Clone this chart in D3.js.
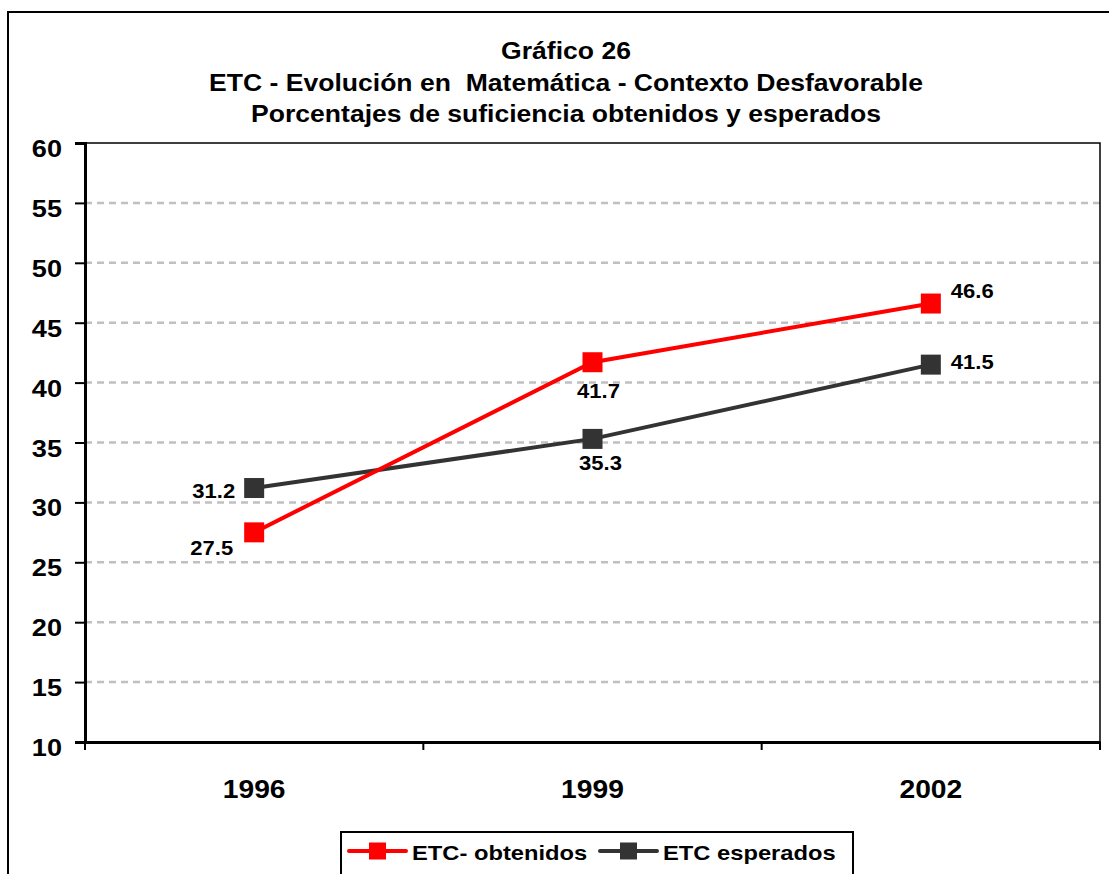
<!DOCTYPE html>
<html><head><meta charset="utf-8">
<script src="https://cdn.jsdelivr.net/npm/d3@7"></script>
<style>body{margin:0;background:#fff;}svg{display:block;font-family:"Liberation Sans",Arial,sans-serif;}text{white-space:pre;}</style>
</head><body>
<script>
const categories = ["1996", "1999", "2002"];
const obtenidos = [27.5, 41.7, 46.6];
const esperados = [31.2, 35.3, 41.5];
const yTicks = [10, 15, 20, 25, 30, 35, 40, 45, 50, 55, 60];
const titleLines = ["Gráfico 26", "ETC - Evolución en  Matemática - Contexto Desfavorable", "Porcentajes de suficiencia obtenidos y esperados"];
const seriesNames = ["ETC- obtenidos", "ETC esperados"];

const W = 1109, H = 874, K = 1.13;
const svg = d3.select("body").append("svg").attr("width", W).attr("height", H);

// stretch text horizontally about its anchor point
function stretch(sel) {
  sel.each(function() {
    const t = d3.select(this);
    const x = +t.attr("x") || 0, y = +t.attr("y") || 0;
    t.attr("x", 0).attr("y", 0).attr("transform", `translate(${x},${y}) scale(${K},1)`);
  });
}

// outer frame
svg.append("rect").attr("x", 8).attr("y", 12).attr("width", 1120).attr("height", 900)
  .attr("fill", "none").attr("stroke", "#000").attr("stroke-width", 2);

// title
svg.append("g").selectAll("text").data(titleLines).join("text")
  .attr("x", 566).attr("y", (d, i) => [59, 90.5, 122][i])
  .attr("text-anchor", "middle").attr("font-weight", "bold").attr("font-size", 23.5)
  .text(d => d).call(stretch);

const L = 85, R = 1100, T = 143, B = 742;
const x = d3.scaleBand().domain(categories).range([L, R]);
const y = d3.scaleLinear().domain([10, 60]).range([B, T]);
const cx = d => x(d) + x.bandwidth() / 2;

// grid
svg.append("g").selectAll("line").data(yTicks.filter(t => t > 10 && t < 60)).join("line")
  .attr("x1", L).attr("x2", R).attr("y1", d => y(d)).attr("y2", d => y(d))
  .attr("stroke", "#c0c0c0").attr("stroke-width", 2.5).attr("stroke-dasharray", "7,5");

// plot border top/right
svg.append("path").attr("d", `M${L},${T}H${R}V${B}`).attr("fill", "none").attr("stroke", "#000").attr("stroke-width", 1.5);

// y axis
const yAxis = svg.append("g").attr("transform", `translate(${L},0)`)
  .call(d3.axisLeft(y).tickValues(yTicks).tickSize(10).tickPadding(12));
yAxis.select(".domain").attr("stroke-width", 3);
yAxis.selectAll(".tick line").attr("stroke-width", 2);
yAxis.selectAll("text").attr("font-size", 24).attr("font-weight", "bold")
  .attr("font-family", "Liberation Sans, Arial, sans-serif").attr("dy", null).attr("y", 13.5).attr("x", -23)
  .call(stretch);

// x axis
const xAxis = svg.append("g").attr("transform", `translate(0,${B})`)
  .call(d3.axisBottom(x).tickSize(0));
xAxis.select(".domain").attr("stroke-width", 3);
xAxis.selectAll("text").attr("font-size", 25).attr("font-weight", "bold")
  .attr("font-family", "Liberation Sans, Arial, sans-serif").attr("dy", null).attr("y", 56)
  .call(stretch);
// x ticks at category boundaries
const bounds = categories.map(c => x(c)).concat([R]);
svg.append("g").selectAll("line").data(bounds).join("line")
  .attr("x1", d => d).attr("x2", d => d).attr("y1", B).attr("y2", B + 8)
  .attr("stroke", "#000").attr("stroke-width", 2);

const line = d3.line().x((d, i) => cx(categories[i])).y(d => y(d));
const series = [
  {name: seriesNames[0], vals: obtenidos, color: "#ff0000"},
  {name: seriesNames[1], vals: esperados, color: "#333333"}
];
[series[1], series[0]].forEach(s => {
  svg.append("path").datum(s.vals).attr("d", line).attr("fill", "none")
    .attr("stroke", s.color).attr("stroke-width", 4);
  svg.append("g").selectAll("rect").data(s.vals).join("rect")
    .attr("x", (d, i) => cx(categories[i]) - 10).attr("y", d => y(d) - 10)
    .attr("width", 20).attr("height", 20).attr("fill", s.color);
});

// data labels
const labelOffsets = {
  obt: [{dx: -21, dy: 23, a: "end"}, {dx: 6, dy: 36, a: "middle"}, {dx: 20, dy: -6, a: "start"}],
  esp: [{dx: -19, dy: 10, a: "end"}, {dx: 8, dy: 31, a: "middle"}, {dx: 20, dy: 4, a: "start"}]
};
function labels(vals, offs) {
  svg.append("g").selectAll("text").data(vals).join("text")
    .attr("x", (d, i) => cx(categories[i]) + offs[i].dx)
    .attr("y", (d, i) => y(d) + offs[i].dy)
    .attr("text-anchor", (d, i) => offs[i].a)
    .attr("font-size", 19.5).attr("font-weight", "bold")
    .text(d => d.toFixed(1)).call(stretch);
}
labels(obtenidos, labelOffsets.obt);
labels(esperados, labelOffsets.esp);

// legend
const lg = svg.append("g");
lg.append("rect").attr("x", 341).attr("y", 832).attr("width", 512).attr("height", 46)
  .attr("fill", "#fff").attr("stroke", "#000").attr("stroke-width", 2);
const items = [{x: 349, s: series[0]}, {x: 600, s: series[1]}];
items.forEach(it => {
  const yy = 851;
  lg.append("line").attr("x1", it.x).attr("x2", it.x + 57).attr("y1", yy).attr("y2", yy)
    .attr("stroke", it.s.color).attr("stroke-width", 4).attr("stroke-linecap", "round");
  lg.append("rect").attr("x", it.x + 20).attr("y", yy - 8.5).attr("width", 17).attr("height", 17).attr("fill", it.s.color);
  lg.append("text").attr("x", it.x + 63).attr("y", yy + 9).attr("font-size", 21).attr("font-weight", "bold")
    .text(it.s.name).call(stretch);
});
</script>
</body></html>
